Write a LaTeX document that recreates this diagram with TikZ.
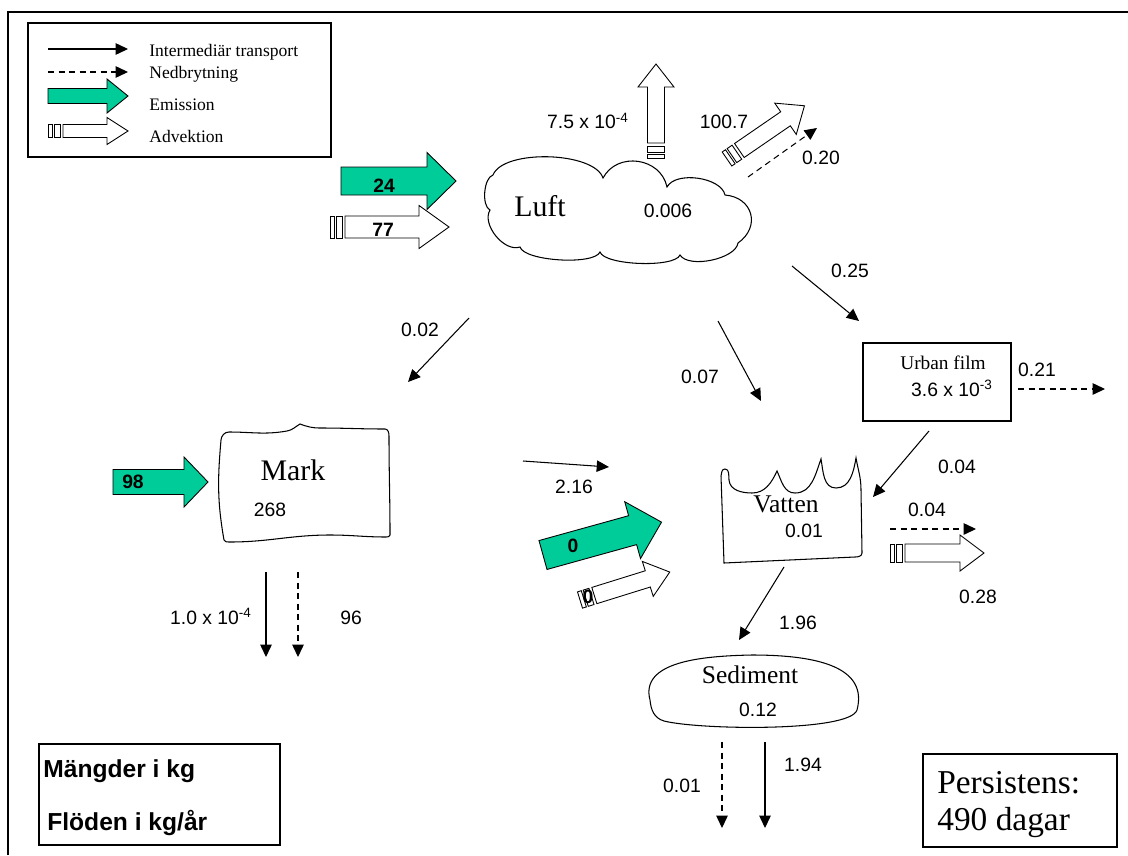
\documentclass[tikz,border=0pt]{standalone}
\usepackage{fontspec}
\setmainfont{Liberation Serif}
\setsansfont{Liberation Sans}
\usetikzlibrary{arrows.meta}

\definecolor{emgreen}{HTML}{00CC99}

% fat arrows: tail, angle, body length, head length, half body, half head
\newcommand{\emarrow}[6]{%
  \begin{scope}[shift={#1},rotate=#2]
    \filldraw[fat,fill=emgreen] (0,-#5) -- (#3,-#5) -- (#3,-#6) -- ({#3+#4},0)
      -- (#3,#6) -- (#3,#5) -- (0,#5) -- cycle;
  \end{scope}}
% tail, angle, head base, tip, half body, half head
\newcommand{\advarrow}[6]{%
  \begin{scope}[shift={#1},rotate=#2]
    \draw[fat,fill=white] (15,-#5) -- (#3,-#5) -- (#3,-#6) -- (#4,0)
      -- (#3,#6) -- (#3,#5) -- (15,#5) -- cycle;
    \draw[fat,fill=white] (0,-#5) rectangle (4,#5) (6,-#5) rectangle (12,#5);
  \end{scope}}

\begin{document}
\begin{tikzpicture}[x=0.02cm,y=-0.02cm,>={Triangle[length=7pt,width=6.5pt]},
flow/.style={->,line width=0.6pt},
degr/.style={flow,dash pattern=on 3.5pt off 2.5pt},
fat/.style={line width=0.5pt,line join=miter},
box/.style={line width=0.6pt},
num/.style={font=\sffamily\fontsize{11}{13}\selectfont,inner sep=0pt,anchor=base},
bnum/.style={num,font=\sffamily\bfseries\fontsize{11}{13}\selectfont},
comp/.style={font=\fontsize{17}{20}\selectfont,inner sep=0pt,anchor=base},
legtext/.style={font=\fontsize{10}{12}\selectfont,inner sep=0pt,anchor=base west}]

\useasboundingbox (0,0) rectangle (1128,855);
\draw[box] (8,855) -- (8,12) -- (1128,12);

% legend
\draw[box] (28,23) rectangle (331,157);
\coordinate (ls1) at (48,49);
\coordinate (ls2) at (128,49);
\coordinate (ld1) at (48,72);
\coordinate (ld2) at (128,72);
\draw[flow] (ls1) -- (ls2);
\draw[degr] (ld1) -- (ld2);
\emarrow{(48,96)}{0}{59}{21}{7.5}{17}
\advarrow{(48,131)}{0}{59}{80}{6.5}{13.5}
\node[legtext] (lt1) at (149,57) {Intermediär transport};
\node[legtext] (lt2) at (149,79) {Nedbrytning};
\node[legtext] (lt3) at (149,111) {Emission};
\node[legtext] (lt4) at (149,142) {Advektion};

% Luft
\draw[box,fill=white] (490,210) to[bend left=70,looseness=0.7] (493,175)
  to[bend left=70,looseness=0.65] (603,178)
  to[bend left=70,looseness=1.2] (667,187)
  to[bend left=70,looseness=0.8] (725,195)
  to[bend left=70,looseness=1.45] (738,243)
  to[bend left=70,looseness=0.7] (680,255)
  to[bend left=70,looseness=0.45] (600,252)
  to[bend left=70,looseness=0.47] (520,247)
  to[bend left=70,looseness=0.9] (490,210) -- cycle;
\node[comp] (luft) at (540,216) {Luft};
\node[num] (luftv) at (668,217) {0.006};

\emarrow{(341,181)}{0}{86}{29}{14}{28.5}
\node[bnum] (e24) at (384,192) {24};
\advarrow{(330,227)}{0}{89}{119}{11}{21.5}
\node[bnum] (a77) at (383,236) {77};

\advarrow{(656,158)}{90}{71}{94}{8.5}{18}
\node[num] (aup) at (588,129) {7.5 x 10\textsuperscript{-4}};
\advarrow{(727,159)}{34.5}{71}{94}{8.5}{19}
\node[num] (adg) at (724,128) {100.7};
\coordinate (n1) at (748,177);
\coordinate (n2) at (817,128);
\draw[degr] (n1) -- (n2);
\node[num] (f020) at (821,164) {0.20};

% transport from Luft
\coordinate (lu1) at (792,266);
\coordinate (lu2) at (859,321);
\draw[flow] (lu1) -- (lu2);
\node[num] (f025) at (850,277) {0.25};
\coordinate (lm1) at (469,318);
\coordinate (lm2) at (408,382);
\draw[flow] (lm1) -- (lm2);
\node[num] (f002) at (420,336) {0.02};
\coordinate (lv1) at (718,321);
\coordinate (lv2) at (761,401);
\draw[flow] (lv1) -- (lv2);
\node[num] (f007) at (700,383) {0.07};

% Urban film
\draw[box] (863,343) rectangle (1011,421);
\node[font=\fontsize{11}{13}\selectfont,inner sep=0pt,anchor=base] (urban) at (943,369) {Urban film};
\node[num] (urbanv) at (952,396) {3.6 x 10\textsuperscript{-3}};
\coordinate (u1) at (1018,389);
\coordinate (u2) at (1105,389);
\draw[degr] (u1) -- (u2);
\node[num] (f021) at (1037,376) {0.21};
\coordinate (uv1) at (929,431);
\coordinate (uv2) at (873,497);
\draw[flow] (uv1) -- (uv2);
\node[num] (f004a) at (957,473) {0.04};

% Mark
\draw[box] (224,540) to[out=100,in=-95] (221,440) to[out=85,in=180] (229,432)
  to[out=0,in=190] (287,431) to[out=10,in=-150] (300,424)
  to[out=-20,in=180] (320,428) to[out=0,in=180] (385,429)
  to[out=0,in=90] (389,436) to[out=-90,in=90] (390,535)
  to[out=-90,in=0] (386,537) to[out=180,in=0] (330,535)
  to[out=180,in=0] (230,542) to[out=180,in=-80] (224,540) -- cycle;
\node[comp] (mark) at (293,480) {Mark};
\node[num] (markv) at (270,516) {268};
\emarrow{(113,482)}{0}{71}{24}{12.5}{25}
\node[bnum] (e98) at (133,488) {98};
\coordinate (m1) at (266,572);
\coordinate (m2) at (266,657);
\coordinate (m3) at (298,572);
\coordinate (m4) at (298,657);
\draw[flow] (m1) -- (m2);
\draw[degr] (m3) -- (m4);
\node[num] (fm1) at (211,624) {1.0 x 10\textsuperscript{-4}};
\node[num] (f096) at (351,624) {96};
\coordinate (mv1) at (523,461);
\coordinate (mv2) at (609,467);
\draw[flow] (mv1) -- (mv2);
\node[num] (f216) at (574,493) {2.16};

% Vatten
\emarrow{(543,555)}{15.5}{93}{30}{15}{29.5}
\node[bnum] (e0) at (573,552) {0};
\advarrow{(580,600)}{17.3}{71}{94}{8.5}{18.3}
\node[bnum] (a0) at (588,603) {0};
\draw[box] (724,563) -- (721,476) to[out=85,in=180] (725,469)
  to[out=0,in=95] (729,480) to[out=-85,in=180] (752,493)
  to[out=0,in=-115] (777,471) to[out=-65,in=180] (795,493)
  to[out=0,in=-110] (821,459) to[out=-80,in=180] (836,488)
  to[out=0,in=-100] (856,458) to[out=-80,in=90] (861,490)
  -- (862,553) to[out=-90,in=0] (855,557) -- cycle;
\node[font=\fontsize{14.5}{17}\selectfont,inner sep=0pt,anchor=base] (vatten) at (786,512) {Vatten};
\node[num] (vattenv) at (804,537) {0.01};
\coordinate (v1) at (890,529);
\coordinate (v2) at (976,529);
\draw[degr] (v1) -- (v2);
\node[num] (f004b) at (927,516) {0.04};
\advarrow{(890,553)}{0}{70}{94}{9}{18}
\node[num] (f028) at (978,603) {0.28};
\coordinate (vs1) at (784,567);
\coordinate (vs2) at (739,640);
\draw[flow] (vs1) -- (vs2);
\node[num] (f196) at (798,629) {1.96};

% Sediment
\draw[box] (650,700) .. controls (640,662) and (700,656) .. (752,655)
  .. controls (820,655) and (868,668) .. (857,710)
  .. controls (850,732) and (700,730) .. (664,721)
  .. controls (654,718) and (651,710) .. (650,700) -- cycle;
\node[font=\fontsize{14.5}{17}\selectfont,inner sep=0pt,anchor=base] (sediment) at (750,683) {Sediment};
\node[num] (sedimentv) at (758,716) {0.12};
\coordinate (s1) at (722,742);
\coordinate (s2) at (722,828);
\coordinate (s3) at (765,742);
\coordinate (s4) at (765,828);
\draw[degr] (s1) -- (s2);
\draw[flow] (s3) -- (s4);
\node[num] (f001) at (682,792) {0.01};
\node[num] (f194) at (803,771) {1.94};

% info boxes
\draw[line width=1.3pt] (39,744) rectangle (280,845);
\node[font=\sffamily\bfseries\fontsize{14}{16}\selectfont,inner sep=0pt,anchor=base west] (unit1) at (43,777) {Mängder i kg};
\node[font=\sffamily\bfseries\fontsize{14}{16}\selectfont,inner sep=0pt,anchor=base west] (unit2) at (47,830) {Flöden i kg/år};
\draw[box] (923,754) rectangle (1117,847);
\node[font=\fontsize{19}{22}\selectfont,inner sep=0pt,anchor=base west] (pers1) at (937,793) {Persistens:};
\node[font=\fontsize{19}{22}\selectfont,inner sep=0pt,anchor=base west] (pers2) at (937,830) {490 dagar};

\end{tikzpicture}
\end{document}
